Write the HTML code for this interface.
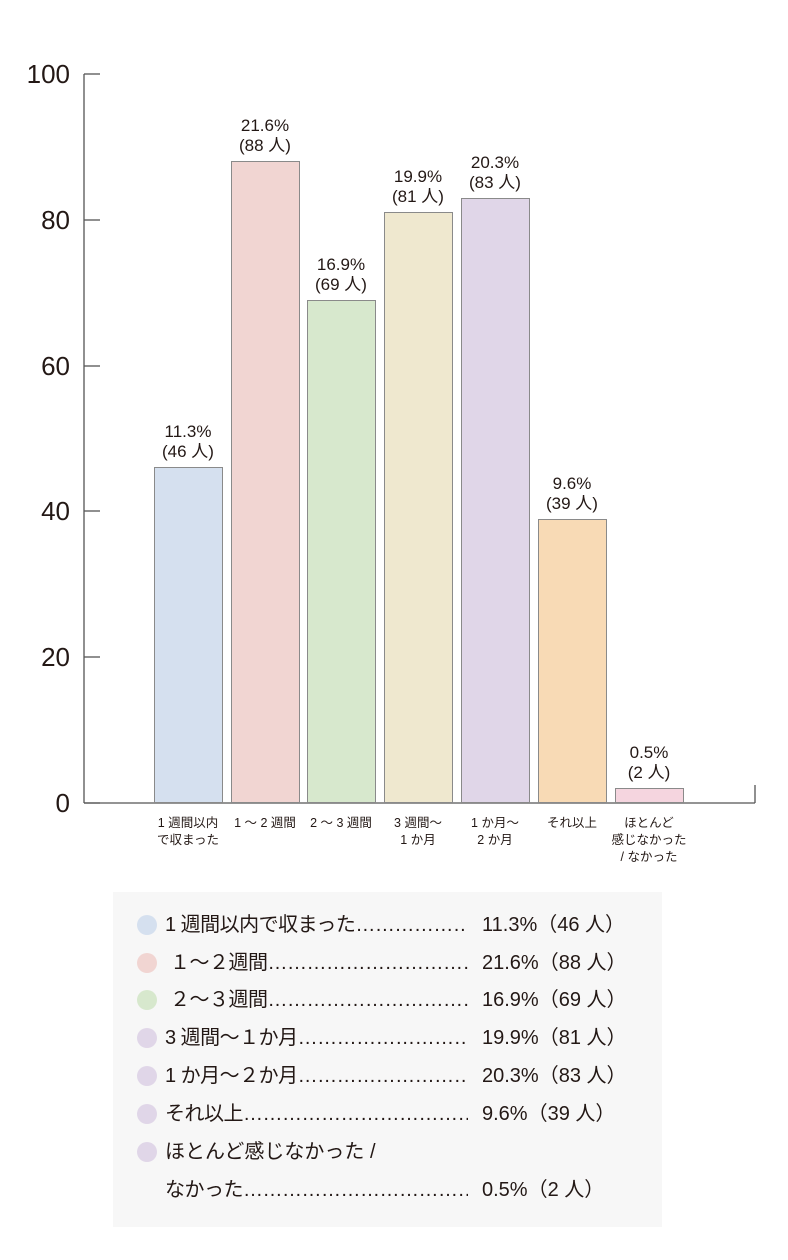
<!DOCTYPE html><html><head><meta charset="utf-8"><style>
body{margin:0;background:#fff;width:788px;height:1260px;position:relative;overflow:hidden;font-family:"Liberation Sans","Noto Sans CJK JP",sans-serif;color:#231815}
.a{position:absolute}
.yl{position:absolute;right:718px;font-size:26px;line-height:26px;text-align:right}
.bar{position:absolute;width:69px;border:1px solid #8a8a8a;box-sizing:border-box}
.bl{position:absolute;width:110px;text-align:center;font-size:17px;line-height:20px}
.cl{position:absolute;width:90px;text-align:center;font-size:12.5px;line-height:17px}
.lg{position:absolute;left:0;font-size:20px;line-height:24px;white-space:nowrap}
.ld{position:absolute;font-size:20px;line-height:24px;white-space:nowrap;overflow:hidden;width:303px;letter-spacing:-0.5px}
.dot{position:absolute;width:20px;height:20px;border-radius:50%}
</style></head><body>
<svg class="a" style="left:0;top:0" width="788" height="810">
<line x1="84" y1="74" x2="84" y2="803" stroke="#555" stroke-width="1.3"/>
<line x1="84" y1="803" x2="755" y2="803" stroke="#555" stroke-width="1.3"/>
<line x1="755" y1="785" x2="755" y2="803" stroke="#555" stroke-width="1.3"/>
<g stroke="#555" stroke-width="1.3">
<line x1="84" y1="74" x2="100" y2="74"/><line x1="84" y1="220" x2="100" y2="220"/><line x1="84" y1="366" x2="100" y2="366"/><line x1="84" y1="511" x2="100" y2="511"/><line x1="84" y1="657" x2="100" y2="657"/><line x1="84" y1="803" x2="100" y2="803"/>
</g></svg>
<div class="yl" style="top:61px">100</div><div class="yl" style="top:207px">80</div><div class="yl" style="top:353px">60</div><div class="yl" style="top:498px">40</div><div class="yl" style="top:644px">20</div><div class="yl" style="top:790px">0</div>

<div class="bar" style="left:154px;top:467px;height:336px;background:#d5e0ef"></div>
<div class="bar" style="left:231px;top:161px;height:642px;background:#f1d5d2"></div>
<div class="bar" style="left:307px;top:300px;height:503px;background:#d7e8cd"></div>
<div class="bar" style="left:384px;top:212px;height:591px;background:#efe8cf"></div>
<div class="bar" style="left:461px;top:198px;height:605px;background:#e0d6e8"></div>
<div class="bar" style="left:538px;top:519px;height:284px;background:#f8dab5"></div>
<div class="bar" style="left:615px;top:788px;height:15px;background:#f5d5df"></div>

<div class="bl" style="left:133px;top:422px">11.3%<br>(46 人)</div>
<div class="bl" style="left:210px;top:116px">21.6%<br>(88 人)</div>
<div class="bl" style="left:286px;top:255px">16.9%<br>(69 人)</div>
<div class="bl" style="left:363px;top:167px">19.9%<br>(81 人)</div>
<div class="bl" style="left:440px;top:153px">20.3%<br>(83 人)</div>
<div class="bl" style="left:517px;top:474px">9.6%<br>(39 人)</div>
<div class="bl" style="left:594px;top:743px">0.5%<br>(2 人)</div>

<div class="cl" style="left:143px;top:815px">1 週間以内<br>で収まった</div>
<div class="cl" style="left:220px;top:815px">1 ～ 2 週間</div>
<div class="cl" style="left:296px;top:815px">2 ～ 3 週間</div>
<div class="cl" style="left:373px;top:815px">3 週間～<br>1 か月</div>
<div class="cl" style="left:450px;top:815px">1 か月～<br>2 か月</div>
<div class="cl" style="left:527px;top:815px">それ以上</div>
<div class="cl" style="left:604px;top:815px">ほとんど<br>感じなかった<br>/ なかった</div>

<div class="a" style="left:113px;top:892px;width:549px;height:335px;background:#f7f7f7">
<div class="dot" style="left:24px;top:23px;background:#d5e0ef"></div>
<div class="dot" style="left:24px;top:61px;background:#f1d5d2"></div>
<div class="dot" style="left:24px;top:98px;background:#d7e8cd"></div>
<div class="dot" style="left:24px;top:136px;background:#e0d6e8"></div>
<div class="dot" style="left:24px;top:174px;background:#e0d6e8"></div>
<div class="dot" style="left:24px;top:212px;background:#e0d6e8"></div>
<div class="dot" style="left:24px;top:250px;background:#e0d6e8"></div>
<div class="ld" style="left:52px;top:21px">1 週間以内で収まった……………………………………</div><div class="lg" style="left:369px;top:21px">11.3%（46 人）</div>
<div class="ld" style="left:52px;top:59px">&nbsp;１～２週間……………………………………………</div><div class="lg" style="left:369px;top:59px">21.6%（88 人）</div>
<div class="ld" style="left:52px;top:96px">&nbsp;２～３週間……………………………………………</div><div class="lg" style="left:369px;top:96px">16.9%（69 人）</div>
<div class="ld" style="left:52px;top:134px">3 週間～１か月…………………………………………</div><div class="lg" style="left:369px;top:134px">19.9%（81 人）</div>
<div class="ld" style="left:52px;top:172px">1 か月～２か月…………………………………………</div><div class="lg" style="left:369px;top:172px">20.3%（83 人）</div>
<div class="ld" style="left:52px;top:210px">それ以上…………………………………………………</div><div class="lg" style="left:369px;top:210px">9.6%（39 人）</div>
<div class="lg" style="left:52px;top:248px">ほとんど感じなかった /</div>
<div class="ld" style="left:52px;top:286px">なかった…………………………………………………</div><div class="lg" style="left:369px;top:286px">0.5%（2 人）</div>
</div>
</body></html>
